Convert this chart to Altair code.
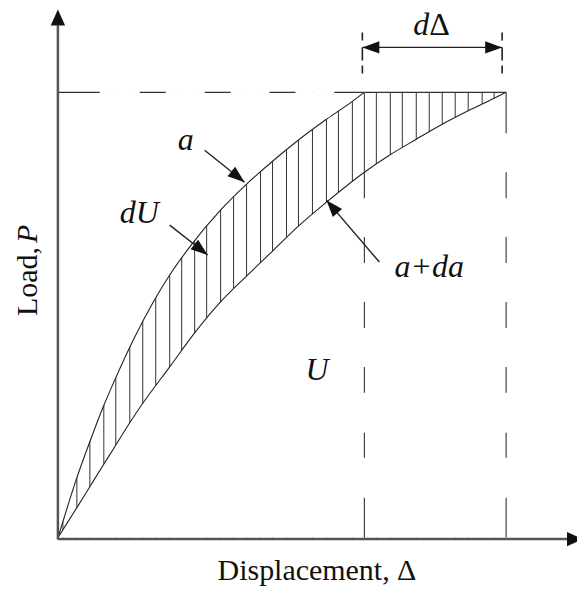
import math

import altair as alt
import pandas as pd

# Load level reached by both curves
P_MAX = 44.6

# Load-displacement curve for crack length a
a_disp = [0, 0.5, 1.9, 3.2, 4.5, 5.7, 7.6, 9.5, 11.2, 13.5, 16.2, 18.9, 21.5, 24.2, 26.9, 29.5, 30.7]
a_load = [0, 1.6, 6.0, 9.6, 13.0, 15.8, 19.9, 23.5, 26.3, 29.5, 32.7, 35.4, 37.7, 39.9, 41.9, 43.7, 44.6]

# Load-displacement curve for crack length a + da
ada_disp = [0, 1.9, 3.2, 4.5, 5.7, 7.2, 8.4, 11.2, 13.7, 16.2, 18.9, 21.5, 24.2, 26.9,
            30.7, 33.2, 35.9, 38.5, 41.2, 43.7, 44.9]
ada_load = [0, 3.0, 5.1, 7.2, 9.1, 11.5, 13.3, 17.1, 20.5, 23.5, 26.2, 28.7, 31.3, 33.6,
            36.6, 38.3, 39.9, 41.4, 42.8, 44.0, 44.6]

# Hatch positions inside the dU band
hatch_disp = [0.5, 1.9, 3.2, 4.6, 5.8, 7.2, 8.5, 9.8, 11.2, 12.4, 13.7, 14.9, 16.3, 17.6,
              18.9, 20.3, 21.5, 22.9, 24.1, 25.5, 26.9, 28.1, 29.5, 30.7, 31.9, 33.3, 34.5,
              35.9, 37.2, 38.5, 39.8, 41.1, 42.5, 43.7]

# Leader arrows for the labels a, dU and a+da
arrow_tail_d = [14.7, 11.2, 32.2]
arrow_tail_p = [38.8, 31.3, 27.6]
arrow_tip_d = [18.7, 15.0, 26.9]
arrow_tip_p = [35.6, 28.3, 33.8]

# Labels (italic, centred)
label_text = ["a", "dU", "a+da", "U"]
label_d = [12.8, 8.15, 37.2, 25.95]
label_p = [38.8, 31.5, 26.1, 15.8]

# d-Delta dimension
dim_ticks_d = [30.5, 44.5]
dim_tick_top, dim_tick_bottom = 50.6, 46.5
dim_p = 49.1
dim_label_d, dim_label_p = 37.2, 50.3

# Axis arrows
x_axis_end, x_axis_tip = 51.0, 52.6
y_axis_end, y_axis_tip = 51.3, 52.9
x_axis_level = -0.15

FONT = "Liberation Serif"
LABEL_SIZE = 32
TITLE_SIZE = 30
INK = "#222"
HEAD = "M0,0L0.36,1L-0.36,1Z"
AXIS_HEAD = "M0,0L0.45,1L-0.45,1Z"

xs = alt.Scale(domain=[0, 52], nice=False, zero=False)
ys = alt.Scale(domain=[0, 53], nice=False, zero=False)


def xq(f):
    return alt.X(f"{f}:Q", scale=xs, axis=None)


def yq(f):
    return alt.Y(f"{f}:Q", scale=ys, axis=None)


def heading(dx, dp):
    # clockwise screen angle of the vector (both axes use 10 px per unit)
    return math.degrees(math.atan2(dx, dp)) % 360


df_a = pd.DataFrame({"d": a_disp, "p": a_load, "top": P_MAX})
df_ada = pd.DataFrame({"d": ada_disp, "p": ada_load, "base": 0.0})
df_curves = pd.concat([df_a.assign(c="a"), df_ada.assign(c="a+da")])

hatch = alt.Chart(pd.DataFrame({"d": hatch_disp, "lo": 0.0, "hi": P_MAX})).mark_rule(
    color="#333", strokeWidth=1
).encode(x=xq("d"), y=yq("lo"), y2=alt.Y2("hi:Q"))

# white masks trim the hatch lines to the band between the curves
mask_top = alt.Chart(df_a).mark_area(color="white", opacity=1, interpolate="monotone").encode(
    x=xq("d"), y=yq("p"), y2=alt.Y2("top:Q")
)
mask_bottom = alt.Chart(df_ada).mark_area(color="white", opacity=1, interpolate="monotone").encode(
    x=xq("d"), y=yq("p"), y2=alt.Y2("base:Q")
)

curves = alt.Chart(df_curves).mark_line(color=INK, strokeWidth=1.1, interpolate="monotone").encode(
    x=xq("d"), y=yq("p"), detail="c:N"
)

top_dashed = alt.Chart(pd.DataFrame({"x1": [0.0], "x2": [a_disp[-1]], "p": [P_MAX]})).mark_rule(
    color="#333", strokeWidth=1.1, strokeDash=[42, 40, 26, 39, 26, 39, 26, 39, 30]
).encode(x=xq("x1"), x2=alt.X2("x2:Q"), y=yq("p"))

top_solid = alt.Chart(pd.DataFrame({"x1": [a_disp[-1]], "x2": [ada_disp[-1]], "p": [P_MAX]})).mark_rule(
    color="#333", strokeWidth=1.1
).encode(x=xq("x1"), x2=alt.X2("x2:Q"), y=yq("p"))

drops = alt.Chart(pd.DataFrame({"d": [a_disp[-1], ada_disp[-1]], "p1": [36.6, 36.6], "p2": [0.0, 0.0]})).mark_rule(
    color="#333", strokeWidth=1.1, strokeDash=[26, 39, 26, 39, 26, 39, 26, 40, 25, 40, 40]
).encode(x=xq("d"), y=yq("p1"), y2=alt.Y2("p2:Q"))

drop_top = alt.Chart(pd.DataFrame({"d": [ada_disp[-1]], "p1": [P_MAX], "p2": [40.5]})).mark_rule(
    color="#333", strokeWidth=1.1
).encode(x=xq("d"), y=yq("p1"), y2=alt.Y2("p2:Q"))

# axes drawn as arrows
axes = alt.Chart(pd.DataFrame({
    "x1": [0.0, 0.0], "x2": [x_axis_end, 0.0],
    "y1": [x_axis_level, -0.2], "y2": [x_axis_level, y_axis_end],
})).mark_rule(color="#555", strokeWidth=2.5).encode(
    x=xq("x1"), x2=alt.X2("x2:Q"), y=yq("y1"), y2=alt.Y2("y2:Q")
)
axis_heads = alt.Chart(pd.DataFrame({
    "d": [x_axis_tip, 0.0], "p": [x_axis_level, y_axis_tip], "ang": [90.0, 0.0]
})).mark_point(shape=AXIS_HEAD, filled=True, size=1024, color="#111", opacity=1).encode(
    x=xq("d"), y=yq("p"), angle=alt.Angle("ang:Q", scale=None)
)

# leader arrows
df_arrows = pd.DataFrame({"d1": arrow_tail_d, "p1": arrow_tail_p, "d2": arrow_tip_d, "p2": arrow_tip_p})
df_arrows["ang"] = [heading(b - a, q - p) for a, p, b, q in zip(arrow_tail_d, arrow_tail_p, arrow_tip_d, arrow_tip_p)]
shafts = alt.Chart(df_arrows).mark_rule(color=INK, strokeWidth=1.4).encode(
    x=xq("d1"), y=yq("p1"), x2=alt.X2("d2:Q"), y2=alt.Y2("p2:Q")
)

# d-Delta dimension line
dim_ticks = alt.Chart(pd.DataFrame({"d": dim_ticks_d, "p1": dim_tick_top, "p2": dim_tick_bottom})).mark_rule(
    color=INK, strokeWidth=1.6, strokeDash=[8, 7, 13, 5, 8]
).encode(x=xq("d"), y=yq("p1"), y2=alt.Y2("p2:Q"))
dim_line = alt.Chart(pd.DataFrame({"x1": [dim_ticks_d[0]], "x2": [dim_ticks_d[1]], "p": [dim_p]})).mark_rule(
    color=INK, strokeWidth=1.3
).encode(x=xq("x1"), x2=alt.X2("x2:Q"), y=yq("p"))

heads_df = pd.DataFrame({
    "d": arrow_tip_d + dim_ticks_d,
    "p": arrow_tip_p + [dim_p, dim_p],
    "ang": list(df_arrows["ang"]) + [270.0, 90.0],
})
heads = alt.Chart(heads_df).mark_point(shape=HEAD, filled=True, size=1156, color="#111", opacity=1).encode(
    x=xq("d"), y=yq("p"), angle=alt.Angle("ang:Q", scale=None)
)

labels = alt.Chart(pd.DataFrame({"t": label_text, "d": label_d, "p": label_p})).mark_text(
    font=FONT, fontSize=LABEL_SIZE, fontStyle="italic", color="#111", align="center", baseline="alphabetic"
).encode(x=xq("d"), y=yq("p"), text="t:N")

dim_d = alt.Chart(pd.DataFrame({"t": ["d"], "d": [dim_label_d], "p": [dim_label_p]})).mark_text(
    font=FONT, fontSize=LABEL_SIZE, fontStyle="italic", color="#111", align="right", baseline="alphabetic"
).encode(x=xq("d"), y=yq("p"), text="t:N")
dim_delta = alt.Chart(pd.DataFrame({"t": ["Δ"], "d": [dim_label_d], "p": [dim_label_p]})).mark_text(
    font=FONT, fontSize=LABEL_SIZE, color="#111", align="left", baseline="alphabetic"
).encode(x=xq("d"), y=yq("p"), text="t:N")

x_title = alt.Chart(pd.DataFrame({"t": ["Displacement, Δ"], "d": [25.95], "p": [-4.2]})).mark_text(
    font=FONT, fontSize=TITLE_SIZE, color="#111", align="center", baseline="alphabetic"
).encode(x=xq("d"), y=yq("p"), text="t:N")

y_title_a = alt.Chart(pd.DataFrame({"t": ["Load,"], "d": [-2.1], "p": [29.1]})).mark_text(
    font=FONT, fontSize=TITLE_SIZE, color="#111", align="right", baseline="alphabetic", angle=270
).encode(x=xq("d"), y=yq("p"), text="t:N")
y_title_b = alt.Chart(pd.DataFrame({"t": ["P"], "d": [-2.1], "p": [29.5]})).mark_text(
    font=FONT, fontSize=TITLE_SIZE, fontStyle="italic", color="#111", align="left", baseline="alphabetic", angle=270
).encode(x=xq("d"), y=yq("p"), text="t:N")

chart = alt.layer(
    hatch, mask_top, mask_bottom, curves,
    top_dashed, top_solid, drops, drop_top,
    axes, axis_heads,
    shafts, dim_ticks, dim_line, heads,
    labels, dim_d, dim_delta, x_title, y_title_a, y_title_b,
).properties(
    width=520,
    height=530,
    padding={"left": 58, "top": 8, "right": 0, "bottom": 54},
    autosize=alt.AutoSizeParams(type="none"),
    background="white",
).configure_view(stroke=None)

chart.save("out.html", embed_options={"renderer": "svg", "actions": False})
